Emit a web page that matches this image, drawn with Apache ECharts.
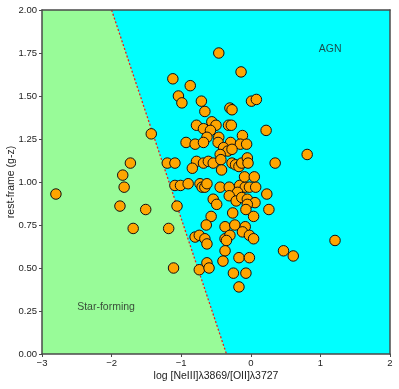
<!DOCTYPE html>
<html>
<head>
<meta charset="utf-8">
<script src="https://cdn.jsdelivr.net/npm/echarts@6/dist/echarts.min.js"></script>
<style>
  html, body { margin: 0; padding: 0; background: #fff; }
  #chart { width: 399px; height: 389px; }
</style>
</head>
<body>
<div id="chart"></div>
<script>
// galaxies: [log NeIII/OII, rest-frame g-z]
var galaxies = [
  [-2.80, 0.93], [-1.88, 0.86], [-1.84, 1.04], [-1.82, 0.97], [-1.73, 1.11],
  [-1.69, 0.73], [-1.51, 0.84], [-1.43, 1.28], [-1.18, 0.73], [-1.20, 1.11],
  [-1.09, 1.11], [-1.11, 0.50], [-1.06, 0.86], [-1.12, 1.60], [-0.87, 1.56],
  [-1.04, 1.50], [-0.99, 1.46], [-0.71, 1.47], [-0.66, 1.41], [-0.30, 1.43],
  [-0.27, 1.42], [0.01, 1.47], [0.08, 1.48], [-0.46, 1.75], [-0.14, 1.64],
  [-0.78, 1.33], [-0.68, 1.31], [-0.56, 1.35], [-0.50, 1.33], [-0.58, 1.30],
  [-0.32, 1.33], [-0.28, 1.33], [0.22, 1.30], [-0.63, 1.26], [-0.46, 1.26],
  [-0.12, 1.27], [-0.93, 1.23], [-0.80, 1.22], [-0.68, 1.23], [-0.47, 1.23],
  [-0.29, 1.23], [-0.15, 1.22], [-0.06, 1.22], [-0.39, 1.20], [-0.33, 1.18],
  [-0.27, 1.19], [-0.44, 1.16], [-0.78, 1.12], [-0.68, 1.11], [-0.61, 1.12],
  [-0.54, 1.11], [-0.43, 1.13], [-0.27, 1.11], [-0.22, 1.10], [-0.17, 1.09],
  [-0.13, 1.11], [-0.05, 1.14], [-0.04, 1.11], [0.35, 1.11], [-0.84, 1.08],
  [-0.42, 1.07], [-1.09, 0.98], [-1.01, 0.98], [-0.90, 0.99], [-0.73, 0.99],
  [-0.70, 0.97], [-0.66, 0.97], [-0.63, 0.99], [-0.44, 0.97], [-0.31, 0.97],
  [-0.16, 0.98], [-0.08, 0.97], [-0.02, 0.97], [0.07, 0.97], [-0.09, 1.03],
  [0.05, 1.03], [-0.19, 0.94], [-0.31, 0.92], [-0.54, 0.90], [-0.49, 0.87],
  [-0.21, 0.89], [-0.13, 0.91], [-0.05, 0.90], [0.06, 0.88], [-0.05, 0.87],
  [0.23, 0.93], [0.26, 0.84], [-0.57, 0.80], [-0.26, 0.82], [0.04, 0.80],
  [-0.07, 0.84], [-0.64, 0.75], [-0.37, 0.74], [-0.23, 0.75], [-0.08, 0.74],
  [-0.12, 0.71], [-0.02, 0.69], [0.04, 0.67], [-0.80, 0.68], [-0.74, 0.69],
  [-0.66, 0.67], [-0.63, 0.64], [-0.37, 0.67], [-0.30, 0.69], [-0.35, 0.66],
  [-0.37, 0.60], [-0.40, 0.54], [-0.17, 0.56], [-0.02, 0.56], [-0.74, 0.49],
  [-0.63, 0.53], [-0.60, 0.50], [-0.25, 0.47], [-0.07, 0.47], [-0.17, 0.39],
  [0.81, 1.16], [1.21, 0.66], [0.47, 0.60], [0.61, 0.57]
];

// dividing line (top -> bottom) and the star-forming polygon
var divider = [[-2.0, 2.0], [-0.35, 0.0]];
var sfRegion = [[-3, 0], [-0.35, 0], [-2.0, 2.0], [-3, 2.0]];

var regionLabels = [
  { name: 'AGN', value: [1.14, 1.77] },
  { name: 'Star-forming', value: [-2.08, 0.27] }
];

var xTicks = [-3, -2, -1, 0, 1, 2];
var yTicks = [0, 0.25, 0.5, 0.75, 1.0, 1.25, 1.5, 1.75, 2.0];

var font = 'Liberation Sans';
var frameColor = '#4a4a4a';

var chart = echarts.init(document.getElementById('chart'));

var option = {
  animation: false,
  textStyle: { fontFamily: font },
  grid: {
    left: 42, right: 9, top: 10, bottom: 35,
    outerBoundsMode: 'none',
    containLabel: false,
    show: true,
    backgroundColor: '#00ffff',
    borderWidth: 0
  },
  xAxis: [{
    type: 'value',
    min: xTicks[0], max: xTicks[xTicks.length - 1], interval: 1,
    name: 'log [NeIII]\u03bb3869/[OII]\u03bb3727',
    nameLocation: 'middle', nameGap: 17, nameMoveOverlap: false,
    nameTextStyle: { fontSize: 10.5, color: '#222', fontFamily: font },
    axisLine: { show: true, onZero: false, lineStyle: { color: frameColor, width: 1.5 } },
    axisTick: { show: true, length: 3, lineStyle: { color: frameColor } },
    axisLabel: {
      fontSize: 9.5, color: '#222', margin: 4, fontFamily: font,
      formatter: function (v) { return String(v).replace('-', '\u2212'); }
    },
    splitLine: { show: false },
    z: 10
  }, {
    type: 'value', position: 'top',
    min: xTicks[0], max: xTicks[xTicks.length - 1], interval: 1,
    axisLine: { show: true, onZero: false, lineStyle: { color: frameColor, width: 1.5 } },
    axisTick: { show: false }, axisLabel: { show: false }, splitLine: { show: false },
    z: 10
  }],
  yAxis: [{
    type: 'value',
    min: yTicks[0], max: yTicks[yTicks.length - 1], interval: 0.25,
    name: 'rest-frame (g-z)',
    nameLocation: 'middle', nameGap: 25, nameRotate: 90, nameMoveOverlap: false,
    nameTextStyle: { fontSize: 10.5, color: '#222', fontFamily: font },
    axisLine: { show: true, onZero: false, lineStyle: { color: frameColor, width: 1.5 } },
    axisTick: { show: true, length: 3, lineStyle: { color: frameColor } },
    axisLabel: {
      fontSize: 9.5, color: '#222', margin: 5, fontFamily: font,
      formatter: function (v) { return v.toFixed(2); }
    },
    splitLine: { show: false },
    z: 10
  }, {
    type: 'value', position: 'right',
    min: yTicks[0], max: yTicks[yTicks.length - 1], interval: 0.25,
    axisLine: { show: true, onZero: false, lineStyle: { color: frameColor, width: 1.5 } },
    axisTick: { show: false }, axisLabel: { show: false }, splitLine: { show: false },
    z: 10
  }],
  series: [
    {
      type: 'custom',
      silent: true,
      z: 1,
      data: [0],
      renderItem: function (params, api) {
        var pts = sfRegion.map(function (p) { return api.coord(p); });
        return {
          type: 'polygon',
          shape: { points: pts },
          style: { fill: '#98fb98', stroke: null }
        };
      }
    },
    {
      type: 'line',
      data: divider,
      symbol: 'none',
      z: 2,
      lineStyle: { color: '#e8221a', width: 1.3, type: [2, 2] }
    },
    {
      type: 'scatter',
      data: galaxies,
      symbol: 'circle',
      symbolSize: 10.5,
      z: 3,
      itemStyle: { color: '#ffa500', borderColor: '#111', borderWidth: 1, opacity: 1 }
    },
    {
      type: 'scatter',
      data: regionLabels,
      symbolSize: 0,
      z: 4,
      silent: true,
      label: {
        show: true,
        position: 'inside',
        formatter: '{b}',
        fontSize: 10.5,
        color: '#222',
        fontFamily: font
      }
    }
  ]
};

chart.setOption(option);
</script>
</body>
</html>
